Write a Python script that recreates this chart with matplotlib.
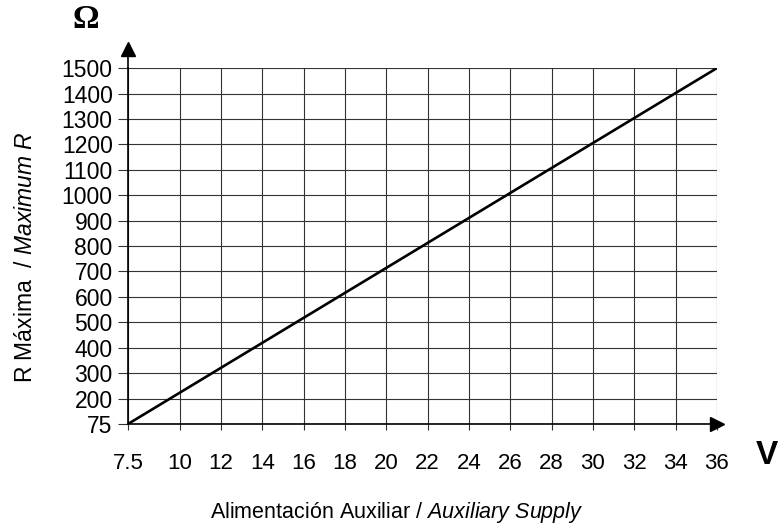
import matplotlib
matplotlib.use("Agg")
import matplotlib.pyplot as plt
import numpy as np

# Datos de la curva: R máxima frente a la alimentación auxiliar
volts = [7.5, 36]
ohms = [75, 1500]

x_ticks = [7.5, 10, 12, 14, 16, 18, 20, 22, 24, 26, 28, 30, 32, 34, 36]
y_ticks = [75, 200, 300, 400, 500, 600, 700, 800, 900, 1000,
           1100, 1200, 1300, 1400, 1500]
x_labels = ['7.5'] + [str(v) for v in x_ticks[1:]]
y_labels = [str(v) for v in y_ticks]

plt.rcParams['font.family'] = ['Liberation Sans', 'DejaVu Sans']
plt.rcParams['mathtext.fontset'] = 'custom'
plt.rcParams['mathtext.rm'] = 'Liberation Sans'
plt.rcParams['mathtext.it'] = 'Liberation Sans:italic'


# El tramo 75-200 del eje va comprimido como si fuera 100-200
def forward(v):
    return np.interp(v, [75, 200, 1500], [100, 200, 1500])


def inverse(p):
    return np.interp(p, [100, 200, 1500], [75, 200, 1500])


fig = plt.figure(figsize=(7.81, 5.28), dpi=100)
ax = fig.add_axes([0.1639, 0.197, 0.754, 0.674])
ax.set_yscale('function', functions=(forward, inverse))
ax.set_xlim(7.5, 36)
ax.set_ylim(75, 1500)

ax.plot(volts, ohms, color='black', lw=1.9, solid_capstyle='round')

ax.set_xticks(x_ticks)
ax.set_xticklabels(x_labels, fontsize=16)
ax.set_yticks(y_ticks)
ax.set_yticklabels(y_labels, fontsize=16.5)
ax.minorticks_off()
ax.grid(True, color='#333333', lw=0.8)
ax.tick_params(axis='x', direction='out', length=4, width=0.8,
               color='#333333', pad=17)
ax.tick_params(axis='y', direction='out', length=7, width=0.8,
               color='#333333', pad=4)

for side in ['top', 'right']:
    ax.spines[side].set_visible(False)
for side in ['left', 'bottom']:
    ax.spines[side].set_linewidth(1.2)

# Flechas de los ejes
ax.plot([0, 0], [1, 1.05], color='black', lw=1.2,
        transform=ax.transAxes, clip_on=False)
ax.plot([0], [1.053], marker='^', color='black', markersize=10,
        transform=ax.transAxes, clip_on=False)
ax.plot([1], [0], marker='>', color='black', markersize=10,
        transform=ax.transAxes, clip_on=False)

fig.text(86 / 781, 1 - 19 / 528, 'Ω', family=['Liberation Serif', 'DejaVu Serif'],
         fontweight='bold', fontsize=24, ha='center', va='center')
fig.text(767 / 781, 1 - 456 / 528, 'V', fontweight='bold',
         fontsize=24, ha='center', va='center')

fig.text(0.508, 0.019,
         r'Alimentación Auxiliar / $\mathit{Auxiliary\ Supply}$',
         fontsize=15.5, ha='center', va='baseline')
fig.text(0.033, 0.513,
         r'R Máxima  / $\mathit{Maximum\ R}$',
         fontsize=16.5, ha='center', va='center', rotation=90)

fig.savefig('out.png', dpi=100)
